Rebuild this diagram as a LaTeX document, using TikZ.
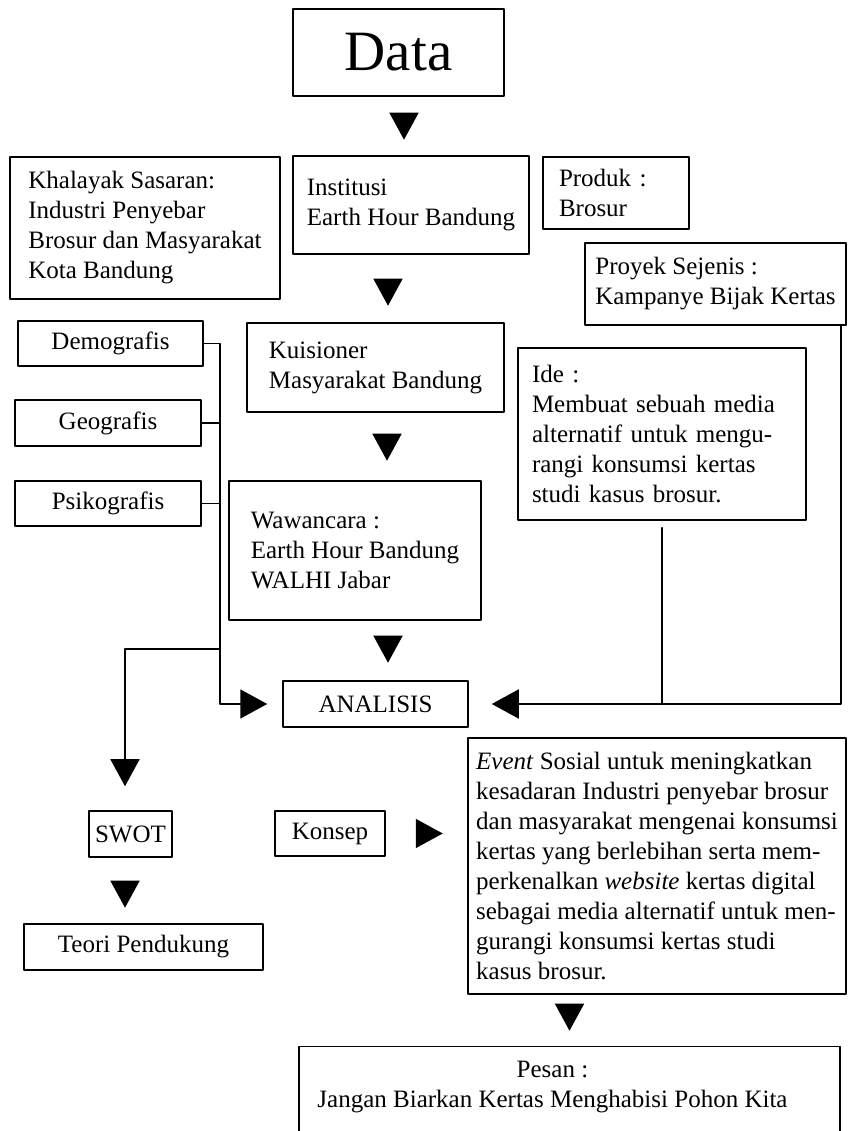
\documentclass[tikz,border=0pt]{standalone}
\usepackage{fontspec}
\setmainfont{Liberation Serif}
\usetikzlibrary{arrows.meta}

\begin{document}
\begin{tikzpicture}[line cap=round,line join=round,x=1pt,y=1pt,
    box/.style={draw,line width=1.5pt,align=left,inner sep=0pt,font=\fontsize{25}{30}\selectfont},
    tri/.style={line width=1.5pt,-{Triangle[length=27pt,width=29pt]}},
    gap/.style={tri,line cap=butt}]
    \useasboundingbox (0,0) rectangle (848,1131);
    % top row
    \node[box,align=center,minimum width=211pt,minimum height=87pt,font=\fontsize{57}{60}\selectfont] (data) at (398.5,1078.5) {Data};
    \node[box,minimum width=270pt,minimum height=142pt] (khal) at (145,903) {Khalayak Sasaran:\\Industri Penyebar\\Brosur dan Masyarakat\\Kota Bandung};
    \node[box,minimum width=236pt,minimum height=98pt] (inst) at (411,926) {Institusi\\Earth Hour Bandung};
    \node[box,text width=114pt,inner xsep=16pt,minimum height=72pt] (prod) at (616,938) {Produk :\\Brosur};
    \node[box,minimum width=261pt,minimum height=82pt] (proy) at (715.5,847) {Proyek Sejenis :\\Kampanye Bijak Kertas};
    % left column
    \node[box,minimum width=185pt,minimum height=45pt] (demo) at (110.5,787.5) {Demografis};
    \node[box,minimum width=186pt,minimum height=46pt] (geo) at (108,708) {Geografis};
    \node[box,minimum width=186pt,minimum height=45pt] (psi) at (108,627.5) {Psikografis};
    % middle column
    \node[box,minimum width=257pt,minimum height=89pt] (kuis) at (375.5,763.5) {Kuisioner\\Masyarakat Bandung};
    \node[box,text width=260pt,inner xsep=14pt,minimum height=172pt] (ide) at (662,697) {Ide :\\Membuat sebuah media\\alternatif untuk mengu-\\rangi konsumsi kertas\\studi kasus brosur.};
    \node[box,minimum width=252pt,minimum height=139pt] (waw) at (355,580.5) {Wawancara :\\Earth Hour Bandung\\WALHI Jabar};
    \node[box,align=center,minimum width=185pt,minimum height=46pt] (anal) at (375.5,427) {ANALISIS};
    % bottom part
    \node[box,minimum width=378pt,minimum height=256pt] (event) at (657,265) {\textit{Event} Sosial untuk meningkatkan\\kesadaran Industri penyebar brosur\\dan masyarakat mengenai konsumsi\\kertas yang berlebihan serta mem-\\perkenalkan \textit{website} kertas digital\\sebagai media alternatif untuk men-\\gurangi konsumsi kertas studi\\kasus brosur.};
    \node[box,align=center,minimum width=83pt,minimum height=46pt] (swot) at (130.5,297) {SWOT};
    \node[box,align=center,minimum width=110pt,minimum height=45pt] (kons) at (330,297.5) {Konsep};
    \node[box,align=center,minimum width=239pt,minimum height=46pt] (teori) at (143.5,184) {Teori Pendukung};
    \node[box,align=center,anchor=north,minimum width=541pt,inner ysep=14pt,text depth=70pt] (pesan) at (569.5,85) {Pesan :\hspace*{34pt}\\Jangan Biarkan Kertas Menghabisi Pohon Kita\hspace*{34pt}};
    % connectors
    \coordinate (spine) at (220,482);
    \draw[tri,shorten >=15pt] (demo.east) -| (spine) |- (anal.west);
    \draw[line width=1.5pt] (geo.east) -- (geo.east -| spine);
    \draw[line width=1.5pt] (psi.east) -- (psi.east -| spine);
    \draw[tri,shorten >=24pt] (spine) -| ([xshift=-5.5pt]swot.north);
    \draw[tri,shorten >=23pt] ([xshift=-6pt]proy.south east) |- (anal.east);
    \draw[line width=1.5pt,shorten <=7pt] (ide.south) -- (ide.south |- anal.east);
    % arrows between boxes
    \draw[gap] ([xshift=5.5pt,yshift=-16pt]data.south) -- ++(0,-27);
    \draw[gap] ([xshift=-23pt,yshift=-24pt]inst.south) -- ++(0,-27);
    \draw[gap] ([xshift=11.5pt,yshift=-21pt]kuis.south) -- ++(0,-27);
    \draw[gap] ([xshift=33pt,yshift=-15pt]waw.south) -- ++(0,-27);
    \draw[gap] ([xshift=-5.5pt,yshift=-23pt]swot.south) -- ++(0,-27);
    \draw[gap] ([xshift=30pt]kons.east) -- ++(27,0);
    \draw[gap] ([yshift=-9pt]event.south -| pesan.north) -- ++(0,-27);
\end{tikzpicture}
\end{document}
